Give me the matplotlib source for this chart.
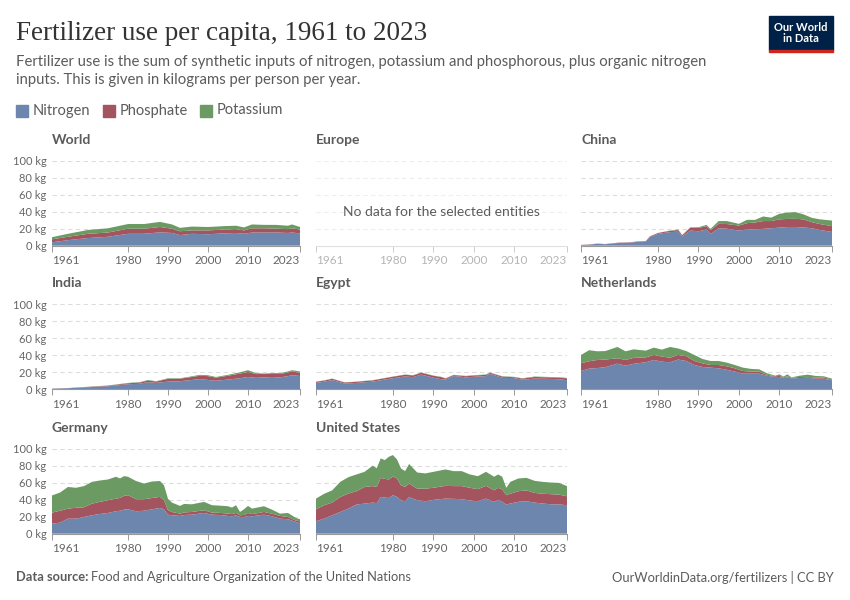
import matplotlib.pyplot as plt
from matplotlib.patches import Rectangle

# Data (kg per person per year)
components = ["Nitrogen", "Phosphate", "Potassium"]
colors = ["#6D86AE", "#A4545F", "#6B9A63"]

world_years = [1961, 1965, 1970, 1975, 1980, 1984, 1988, 1991, 1993, 1996, 2000, 2004, 2007, 2009, 2011, 2014, 2017, 2020, 2021, 2023]
world_n = [4, 6.5, 9, 10.5, 14, 14, 15.7, 15, 12.5, 14, 13.5, 14.5, 15, 14, 15.5, 15.5, 15.5, 15, 15.5, 14.5]
world_p = [3.5, 4, 5, 5, 6, 6, 6.3, 5, 4.5, 4, 4.5, 4.5, 4.5, 4, 5, 5, 4.5, 4.5, 5, 4.5]
world_k = [2.5, 3.5, 4.5, 5, 5.5, 5.5, 6, 5, 4, 4.5, 4, 4, 4, 3.5, 4.5, 4, 4.5, 4, 4.5, 3]

china_years = [1961, 1963, 1965, 1967, 1970, 1973, 1975, 1977, 1978, 1980, 1983, 1985, 1986, 1988, 1990, 1992, 1993, 1995, 1997,
               2000, 2002, 2004, 2006, 2008, 2010, 2012, 2014, 2016, 2018, 2020, 2023]
china_n = [0.8, 1.2, 2.2, 1.7, 3.1, 3.6, 4.5, 5, 10.2, 14, 16, 16.5, 11, 17.8, 17, 19, 13.8, 20.5, 20,
           17.8, 19, 19.3, 19.8, 20.5, 21.3, 22, 22, 21.5, 20.5, 18.5, 16.2]
china_p = [0.2, 0.3, 0.3, 0.3, 0.4, 0.4, 0.5, 0.5, 0.8, 1, 1.5, 2, 1.3, 3.4, 3.8, 4, 4.5, 5.2, 5.5,
           5.9, 7.5, 8, 9.2, 8.5, 9.7, 9.5, 9.6, 9.5, 7.2, 7, 6.8]
china_k = [0, 0, 0, 0, 0, 0, 0, 0, 0, 0, 0.3, 0.5, 0.3, 0.5, 0.9, 1.5, 1.5, 3.3, 3.5,
           2, 3.9, 3.1, 5.4, 4, 6.5, 7.5, 7.9, 5.8, 5.1, 5.5, 6.6]

india_years = [1961, 1965, 1970, 1975, 1980, 1983, 1985, 1987, 1990, 1993, 1995, 1998, 2000, 2002, 2005, 2008, 2010, 2012,
               2014, 2016, 2018, 2020, 2021, 2023]
india_n = [0.7, 1.2, 2.4, 3.6, 6, 6.5, 8.5, 7.5, 9, 9.5, 10.5, 12, 11, 10, 11.5, 13, 14.5, 13.5, 14, 13.5, 14, 15.5, 16.5, 15.7]
india_p = [0.1, 0.2, 0.4, 0.6, 1.1, 1.5, 2, 1.6, 3.3, 3, 3.3, 4, 4.5, 3.7, 4.5, 5.5, 5.9, 4.4, 4.1, 4.5, 4, 4.3, 4.8, 3.5]
india_k = [0, 0.1, 0.2, 0.3, 0.4, 0.5, 0.5, 0.4, 0.7, 0.5, 0.7, 1, 1, 0.8, 1, 1.5, 2.1, 1.1, 0.4, 1, 1, 1.2, 1.2, 1.8]

egypt_years = [1961, 1963, 1965, 1968, 1970, 1975, 1980, 1983, 1985, 1987, 1990, 1992, 1993, 1995, 1998, 2000, 2003, 2004,
               2007, 2010, 2012, 2015, 2018, 2021, 2023]
egypt_n = [7.5, 8.9, 10.9, 6.9, 7.2, 9.0, 13, 15.1, 14.3, 17.3, 13.7, 11.8, 11.4, 15.7, 14.1, 14.7, 15.5, 18.4,
           13.5, 13.2, 11.3, 12.5, 12.3, 11.9, 10.7]
egypt_p = [1.3, 1.4, 1.5, 1.2, 1.3, 1.5, 1.8, 2, 2, 2.2, 2.2, 2.5, 1.3, 1.0, 1.3, 1.5, 1.5, 1.0,
           1.5, 1.0, 1.3, 2, 1.8, 1.8, 2.2]
egypt_k = [0.2, 0.2, 0.2, 0.2, 0.2, 0.2, 0.2, 0.3, 0.3, 0.3, 0.3, 0.3, 0.3, 0.3, 0.4, 0.4, 0.4, 0.4,
           0.4, 0.4, 0.4, 0.5, 0.5, 0.5, 0.5]

nl_years = [1961, 1963, 1965, 1967, 1970, 1972, 1974, 1977, 1979, 1981, 1983, 1985, 1987, 1989, 1991, 1993, 1995, 1997,
            1999, 2001, 2003, 2005, 2007, 2009, 2010, 2011, 2012, 2013, 2015, 2017, 2019, 2021, 2023]
nl_n = [21.6, 24.3, 25, 26, 30.2, 27.8, 30, 31.8, 34.5, 32.5, 31.8, 35, 33.3, 28.6, 26.3, 25.5, 24.7, 23,
        20.8, 18.4, 18.4, 18.4, 16, 14.5, 14.5, 13.5, 14, 13, 13.3, 13.7, 12.5, 12.5, 10.6]
nl_p = [9, 8.7, 9.5, 9, 6.3, 6.7, 7, 5.7, 5.9, 6, 5.4, 5.4, 5.7, 4.7, 4.2, 3.1, 3.9, 4,
        3.9, 3.1, 2.4, 2.4, 1, 0.8, 1.3, 0.7, 1.3, 0.5, 1.2, 0.8, 1.5, 1.3, 0.8]
nl_k = [9.8, 13, 10.2, 10, 13.3, 10.2, 10, 8, 8.6, 8.2, 12.6, 7.6, 6, 7.1, 5.2, 4.7, 4.7, 4.4,
        3.9, 4, 3.2, 2.7, 1.8, 0.7, 1.8, 0.8, 2.3, 0.5, 1.5, 2.7, 1.7, 1.5, 1.1]

de_years = [1961, 1963, 1965, 1967, 1969, 1971, 1973, 1975, 1977, 1978, 1979, 1980, 1982, 1984, 1986, 1988, 1989, 1990,
            1991, 1993, 1994, 1996, 1999, 2001, 2003, 2005, 2006, 2007, 2008, 2009, 2010, 2011, 2014, 2016, 2018, 2020,
            2022, 2023]
de_n = [11.8, 13, 17.7, 17.7, 19.7, 21.7, 23.2, 24.4, 26.4, 27, 28.3, 28.7, 26.4, 27, 28.7, 30.3, 28.7, 22.4,
        21.7, 20.9, 22, 22.4, 24.4, 22.4, 22, 20.9, 20.5, 21.5, 19.7, 19.5, 20.9, 20.5, 22.4, 20.5, 17.7, 17,
        13.8, 12.2]
de_p = [13, 14, 11.8, 12.8, 11.4, 13.7, 14.3, 15, 14.9, 15, 16.2, 16.6, 14.2, 13.6, 13.3, 13, 10.7, 5.2,
        3.8, 2.7, 3, 3.2, 3.2, 2.4, 2.5, 2.7, 2.5, 3, 2, 2.5, 3.5, 2.5, 3.2, 3, 3.2, 2.7,
        1.6, 2.4]
de_k = [20.2, 21.4, 25.5, 23.5, 24.9, 25.6, 25.1, 24.4, 25.7, 23, 23.2, 21.7, 21.4, 18.4, 19.4, 18.7, 17.6, 13.4,
        11.1, 9.1, 10, 9, 9.8, 8.7, 8.5, 8.7, 7.7, 9, 3.9, 6.7, 8.3, 6.5, 6.7, 4.8, 2.7, 4.7,
        3.1, 2.4]

us_years = [1961, 1963, 1965, 1967, 1969, 1971, 1973, 1975, 1976, 1977, 1978, 1979, 1980, 1981, 1982, 1983, 1984, 1986,
            1988, 1990, 1993, 1995, 1997, 1999, 2001, 2003, 2005, 2006, 2007, 2008, 2009, 2011, 2013, 2015, 2017, 2019,
            2021, 2023]
us_n = [14.6, 17.7, 21.7, 25.6, 29.5, 34.3, 35.4, 36.6, 36, 43.3, 42.5, 42, 45.3, 43.3, 39.4, 38.2, 43, 39.4,
        38.2, 39.8, 41.3, 41, 40.6, 39, 38.2, 41.3, 37.4, 39.8, 37.5, 34.3, 35.5, 37.5, 38.2, 36.6, 35.5, 34.6,
        34.5, 33.5]
us_p = [14.1, 15.8, 14.9, 17.7, 17.7, 15.7, 19.6, 19.4, 19, 22.4, 22, 21.8, 22, 21.7, 17.6, 16.8, 16, 13.6,
        14.8, 14.2, 15, 15, 15.4, 15, 14.2, 15, 13.6, 14.2, 14.5, 11, 11.5, 12.5, 12.8, 11.4, 11.5, 11.9,
        11.5, 10.5]
us_k = [12.6, 13.4, 14.4, 17.7, 19.3, 19.7, 17.8, 24, 22, 22.9, 22.1, 26.7, 25.2, 22.4, 19.8, 18.6, 23, 19,
        17.9, 18.8, 19.3, 17.6, 17.6, 15.7, 15.3, 16.5, 16, 15.7, 15, 8.7, 14, 15, 14.7, 14.2, 14, 13.7,
        13.8, 12]

panels = [
    ("World", world_years, [world_n, world_p, world_k]),
    ("Europe", None, None),
    ("China", china_years, [china_n, china_p, china_k]),
    ("India", india_years, [india_n, india_p, india_k]),
    ("Egypt", egypt_years, [egypt_n, egypt_p, egypt_k]),
    ("Netherlands", nl_years, [nl_n, nl_p, nl_k]),
    ("Germany", de_years, [de_n, de_p, de_k]),
    ("United States", us_years, [us_n, us_p, us_k]),
]

xticks = [1961, 1980, 1990, 2000, 2010, 2023]
yticks = [0, 20, 40, 60, 80, 100]

W, H = 850, 600
fig = plt.figure(figsize=(8.5, 6), dpi=100)
plt.rcParams['font.family'] = ['Lato', 'DejaVu Sans']

def fx(px):
    return px / W

def fy(py):
    return 1 - py / H

col_x = [(52, 300), (316, 567), (581, 832)]
row_y = [(160.7, 245.7), (304.3, 389.3), (448.7, 533.7)]
grey = "#5b5b5b"

for idx, (name, years, series) in enumerate(panels):
    r, c = divmod(idx, 3)
    x0, x1 = col_x[c]
    ytop, ybot = row_y[r]
    ax = fig.add_axes([fx(x0), fy(ybot), fx(x1 - x0), (ybot - ytop) / H])
    ax.set_xlim(1961, 2023)
    ax.set_ylim(0, 100)
    for s in ax.spines.values():
        s.set_visible(False)
    empty = years is None
    gcol = "#eeeeee" if empty else "#dddddd"
    for yv in yticks[1:]:
        ax.axhline(yv, color=gcol, lw=0.8, ls=(0, (4, 3)), zorder=0)
    ax.spines['bottom'].set_visible(True)
    ax.spines['bottom'].set_color("#e0e0e0" if empty else "#999999")
    ax.spines['bottom'].set_linewidth(0.8)
    ax.set_xticks(xticks)
    labels = ax.set_xticklabels([str(t) for t in xticks], fontsize=8.5,
                                color="#b5b5b5" if empty else "#666666")
    labels[0].set_horizontalalignment('left')
    labels[-1].set_horizontalalignment('right')
    ax.tick_params(axis='x', length=4, width=0.7, color="#cccccc" if empty else "#999999", pad=3)
    if c == 0:
        ax.set_yticks(yticks)
        ax.set_yticklabels([f"{t} kg" for t in yticks], fontsize=8, color="#666666")
        ax.tick_params(axis='y', length=0, pad=4)
    else:
        ax.set_yticks([])
    if empty:
        ax.text(0.5, 0.4, "No data for the selected entities", transform=ax.transAxes,
                ha='center', va='center', fontsize=10, color="#5b5b5b")
    else:
        ax.stackplot(years, series, colors=colors, lw=0, zorder=2)
    fig.text(fx(x0), fy(ytop - 21), name, fontsize=10, fontweight='bold', color=grey,
             ha='left', va='center')

# Header
fig.text(fx(16), fy(33), "Fertilizer use per capita, 1961 to 2023", fontsize=19.5,
         family=['Liberation Serif', 'DejaVu Serif'], color="#333333", ha='left', va='center')
fig.text(fx(16), fy(71), "Fertilizer use is the sum of synthetic inputs of nitrogen, potassium and phosphorous, plus organic nitrogen\n"
         "inputs. This is given in kilograms per person per year.", fontsize=10.7, color=grey,
         ha='left', va='center', linespacing=1.4)

# Legend
lx = 16
for name, col in zip(components, colors):
    fig.patches.append(Rectangle((fx(lx), fy(117)), fx(12), 12 / H, color=col, transform=fig.transFigure))
    t = fig.text(fx(lx + 17), fy(110.5), name, fontsize=10.5, color=grey, ha='left', va='center')
    fig.canvas.draw()
    bb = t.get_window_extent()
    lx = bb.x1 + 12

# Logo
fig.patches.append(Rectangle((fx(769), fy(50)), fx(64), 34 / H, color="#002147", transform=fig.transFigure))
fig.patches.append(Rectangle((fx(769), fy(52)), fx(64), 2.5 / H, color="#CE261E", transform=fig.transFigure))
fig.text(fx(801), fy(33), "Our World\nin Data", fontsize=8, color="white", ha='center', va='center',
         linespacing=1.1, fontweight='bold')

# Footer
fig.text(fx(16), fy(577), "Data source:", fontsize=9.3, fontweight='bold', color=grey, ha='left', va='center')
fig.text(fx(91), fy(577), "Food and Agriculture Organization of the United Nations", fontsize=9.3,
         color=grey, ha='left', va='center')
fig.text(fx(834), fy(577), "OurWorldinData.org/fertilizers | CC BY", fontsize=9.3, color=grey,
         ha='right', va='center')

fig.savefig("out.png", dpi=100, facecolor="white")
